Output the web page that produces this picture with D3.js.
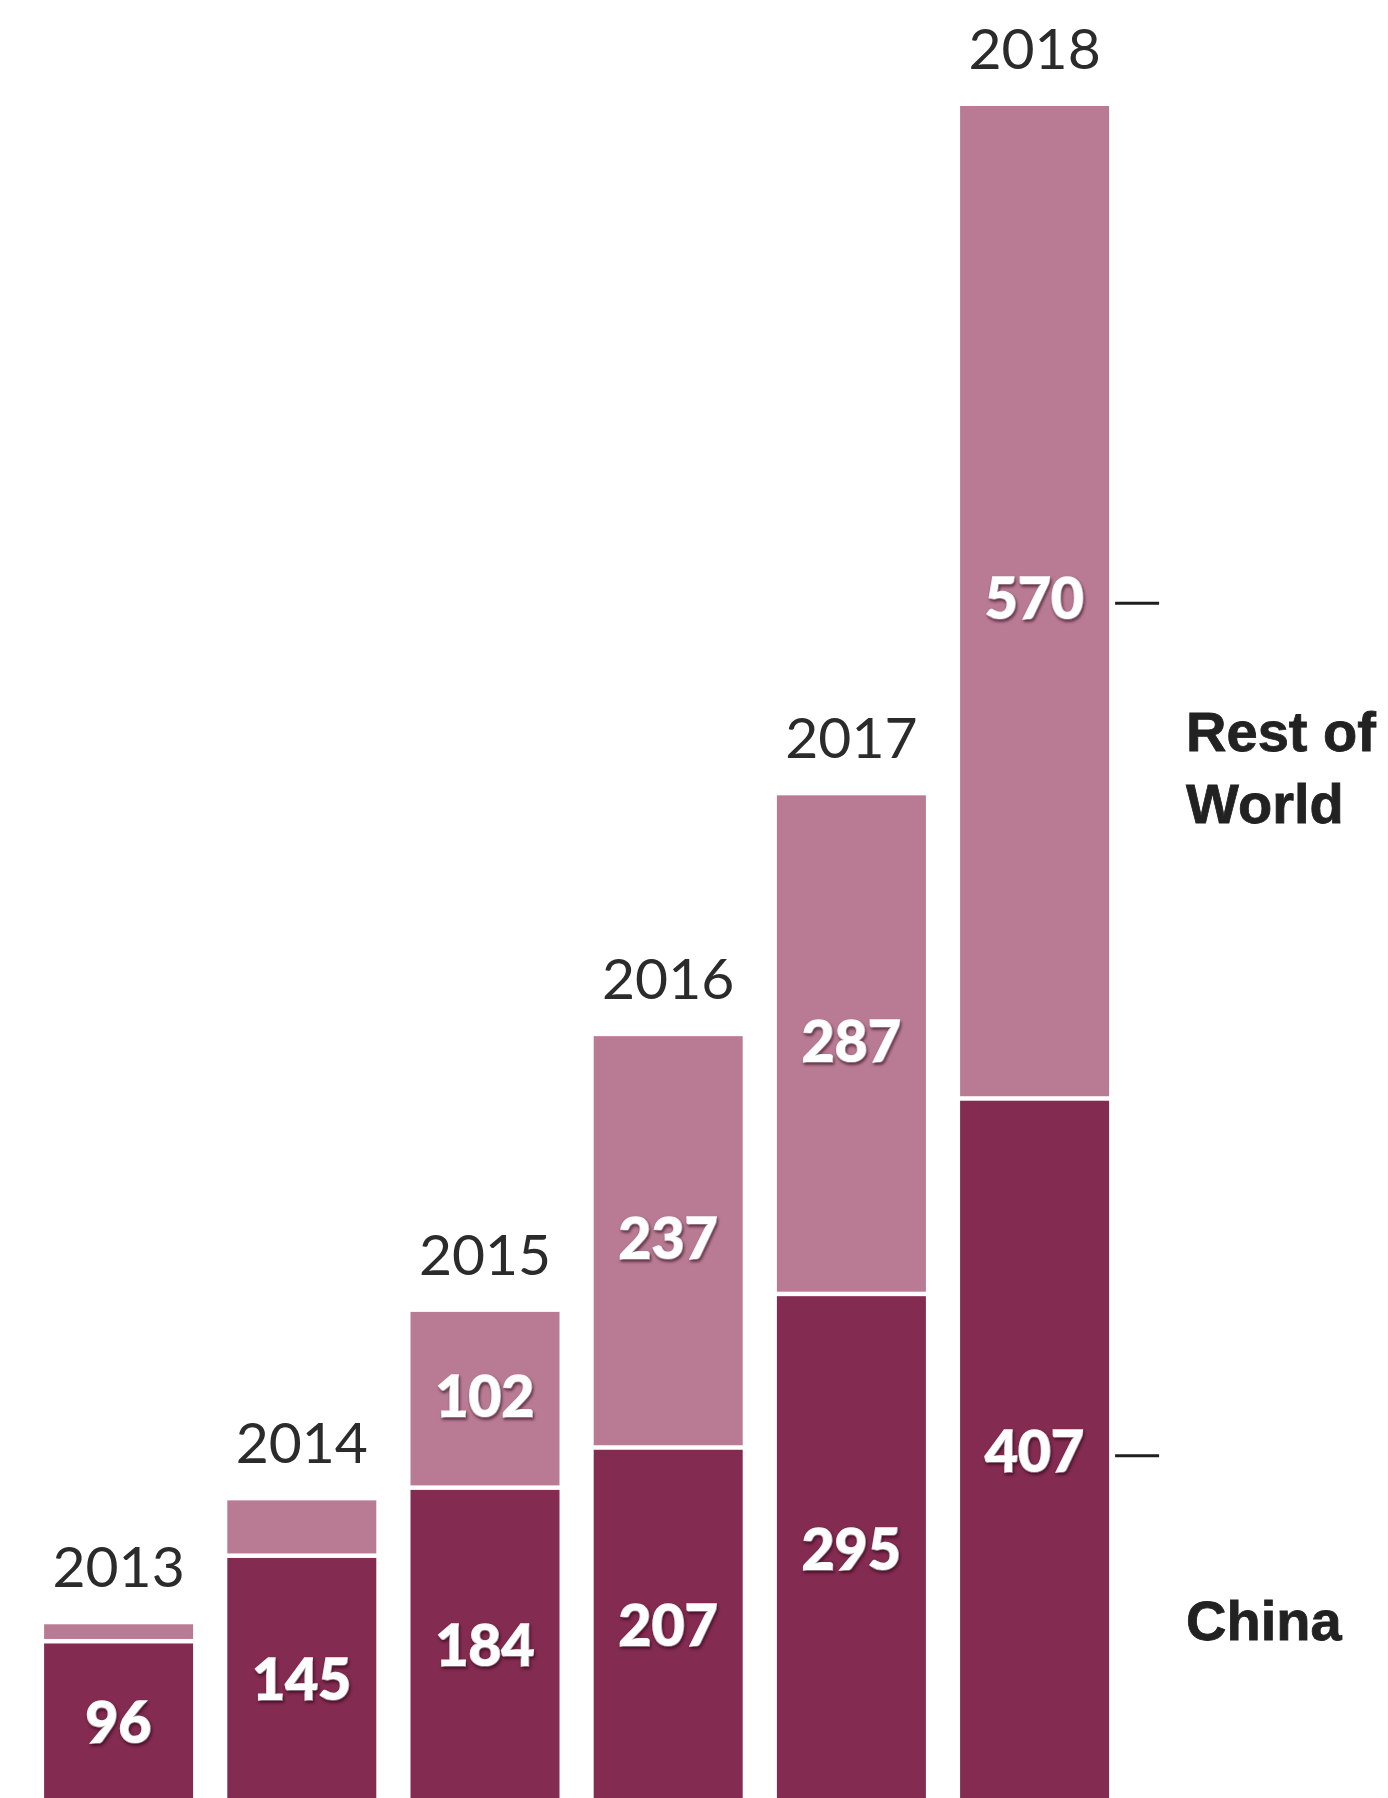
<!DOCTYPE html>
<html lang="en">
<head>
    <meta charset="UTF-8">
    <title>China vs Rest of World</title>
    <script src="https://d3js.org/d3.v7.min.js"></script>
    <style>
        body {
            margin: 0;
            background: #fff;
        }
        svg {
            display: block;
        }
        .year {
            font-family: Lato, "Open Sans", sans-serif;
            font-size: 57px;
            fill: #2b2b2b;
        }
        .value {
            font-family: Lato, "Liberation Sans", sans-serif;
            font-weight: 900;
            font-size: 57px;
            fill: #fff;
            stroke: #fff;
            stroke-width: 1.6px;
            paint-order: stroke;
            text-shadow: 1px 2px 3px rgba(40, 0, 20, 0.55);
        }
        .legend {
            font-family: "Liberation Sans", Arial, sans-serif;
            font-weight: bold;
            font-size: 56px;
            fill: #222;
            stroke: #222;
            stroke-width: 0.8px;
        }
    </style>
</head>
<body>
    <script>
        // Data
        const years = ["2013", "2014", "2015", "2016", "2017", "2018"];
        const china = [96, 145, 184, 207, 295, 407];
        const restOfWorld = [11, 33, 102, 237, 287, 570];
        const seriesKeys = ["china", "rest"];
        const seriesNames = ["China", "Rest of World"];
        const seriesLines = [["China"], ["Rest of", "World"]];
        const colors = ["#832b51", "#b97b94"];

        const width = 1388;
        const height = 1798;

        const svg = d3.select("body")
            .append("svg")
            .attr("width", width)
            .attr("height", height);

        const rows = years.map((y, i) => ({ year: y, china: china[i], rest: restOfWorld[i] }));
        const stacked = d3.stack().keys(seriesKeys)(rows);

        // x: band scale, bars 149px wide on a 183px step
        const pad = 0.1867;
        const x = d3.scaleBand()
            .domain(years)
            .range([27, 27 + 6 * 183.2])
            .paddingInner(pad)
            .paddingOuter(pad / 2);

        // y: baseline sits just below the visible frame
        const y = d3.scaleLinear()
            .domain([0, 977])
            .range([1811, 106]);

        const gap = 4.5;

        const layers = svg.selectAll("g.layer")
            .data(stacked)
            .join("g")
            .attr("class", "layer")
            .attr("fill", (d, i) => colors[i]);

        layers.selectAll("rect")
            .data(d => d.map(s => ({ key: d.key, s: s })))
            .join("rect")
            .attr("x", d => x(d.s.data.year))
            .attr("width", x.bandwidth())
            .attr("y", d => y(d.s[1]))
            .attr("height", d => {
                const h = y(d.s[0]) - y(d.s[1]);
                return d.key === "rest" ? Math.max(0, h - gap) : h;
            });

        // value labels inside segments (only where there is room)
        layers.selectAll("text")
            .data(d => d.map(s => ({ key: d.key, s: s })))
            .join("text")
            .attr("class", "value")
            .attr("text-anchor", "middle")
            .attr("x", d => x(d.s.data.year) + x.bandwidth() / 2)
            .attr("y", d => (y(d.s[0]) + y(d.s[1])) / 2 + 16)
            .text(d => (y(d.s[0]) - y(d.s[1]) > 80 ? d.s.data[d.key] : ""));

        // year labels above each bar
        svg.selectAll("text.year")
            .data(rows)
            .join("text")
            .attr("class", "year")
            .attr("text-anchor", "middle")
            .attr("x", d => x(d.year) + x.bandwidth() / 2)
            .attr("y", d => y(d.china + d.rest) - 37)
            .text(d => d.year);

        // legend: ticks beside the last bar plus series names
        const last = stacked.map(layer => layer[layer.length - 1]);
        const lastYear = years[years.length - 1];
        const barRight = x(lastYear) + x.bandwidth();

        const legend = svg.selectAll("g.legend-item")
            .data(last)
            .join("g")
            .attr("class", "legend-item");

        legend.append("line")
            .attr("x1", barRight + 6)
            .attr("x2", barRight + 50)
            .attr("y1", d => (y(d[0]) + y(d[1])) / 2)
            .attr("y2", d => (y(d[0]) + y(d[1])) / 2)
            .attr("stroke", "#1e1e1e")
            .attr("stroke-width", 3);

        legend.append("text")
            .attr("class", "legend")
            .attr("x", barRight + 77)
            .attr("y", (d, i) => (y(d[0]) + y(d[1])) / 2 + 184 - (seriesLines[i].length - 1) * 36)
            .attr("aria-label", (d, i) => seriesNames[i])
            .each(function (d, i) {
                const t = d3.select(this);
                const x0 = barRight + 77;
                seriesLines[i].forEach((line, j) => {
                    t.append("tspan")
                        .attr("x", x0)
                        .attr("dy", j === 0 ? 0 : 72)
                        .text(line);
                });
            });
    </script>
</body>
</html>
